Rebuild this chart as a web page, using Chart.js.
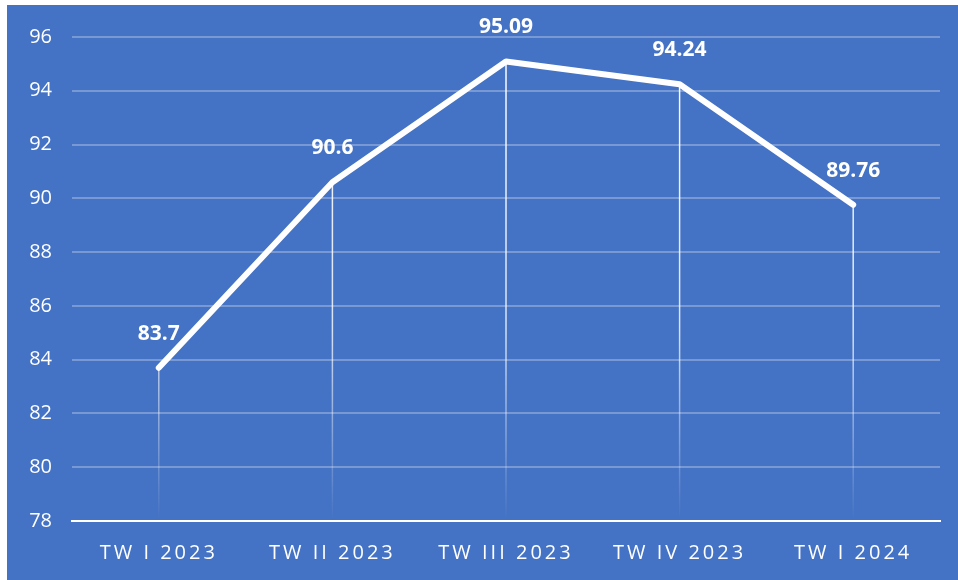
<!DOCTYPE html>
<html>
<head>
<meta charset="utf-8">
<script src="https://cdn.jsdelivr.net/npm/chart.js@4.4.1/dist/chart.umd.min.js"></script>
<style>
  html, body { margin: 0; padding: 0; background: #ffffff; }
  #wrap { position: absolute; left: 7px; top: 5px; width: 951px; height: 575px; background: #4472c4; }
</style>
</head>
<body>
<div id="wrap"><canvas id="chart1" width="951" height="575"></canvas></div>
<script>
const quarters = ['TW I 2023', 'TW II 2023', 'TW III 2023', 'TW IV 2023', 'TW I 2024'];
const scores = [83.7, 90.6, 95.09, 94.24, 89.76];
const yMin = 78;
const yMax = 96;
const yStep = 2;

// category axis with letter-spaced labels
class SpacedCategory extends Chart.CategoryScale {
  drawLabels(area) {
    const ctx = this.ctx;
    ctx.save();
    ctx.letterSpacing = '3px';
    super.drawLabels(area);
    ctx.restore();
  }
}
SpacedCategory.id = 'spacedCategory';
SpacedCategory.defaults = Chart.CategoryScale.defaults;
Chart.register(SpacedCategory);

// vertical drop lines from each point to the axis
const dropLines = {
  id: 'dropLines',
  beforeDatasetsDraw(chart) {
    const ctx = chart.ctx;
    const area = chart.chartArea;
    const pts = chart.getDatasetMeta(0).data;
    const grad = ctx.createLinearGradient(0, area.top, 0, area.bottom);
    grad.addColorStop(0, 'rgba(255,255,255,1)');
    grad.addColorStop(0.6, 'rgba(255,255,255,0.8)');
    grad.addColorStop(1, 'rgba(255,255,255,0)');
    ctx.save();
    ctx.strokeStyle = grad;
    ctx.lineWidth = 1.5;
    pts.forEach(p => {
      ctx.beginPath();
      ctx.moveTo(p.x, p.y);
      ctx.lineTo(p.x, area.bottom);
      ctx.stroke();
    });
    ctx.restore();
  }
};

// value labels above the points
const valueLabels = {
  id: 'valueLabels',
  afterDatasetsDraw(chart) {
    const ctx = chart.ctx;
    const pts = chart.getDatasetMeta(0).data;
    ctx.save();
    ctx.fillStyle = '#ffffff';
    ctx.font = 'bold 21px "Open Sans"';
    ctx.textAlign = 'center';
    ctx.textBaseline = 'middle';
    pts.forEach((p, i) => {
      ctx.fillText(String(scores[i]), p.x, p.y - 34);
    });
    ctx.restore();
  }
};

new Chart(document.getElementById('chart1').getContext('2d'), {
  type: 'line',
  data: {
    labels: quarters,
    datasets: [{
      data: scores,
      borderColor: '#ffffff',
      borderWidth: 6,
      borderJoinStyle: 'round',
      borderCapStyle: 'round',
      pointRadius: 0,
      tension: 0,
      fill: false
    }]
  },
  options: {
    responsive: false,
    animation: false,
    layout: { padding: { top: 30, right: 18, bottom: 0, left: 0 } },
    plugins: {
      legend: { display: false },
      tooltip: { enabled: false }
    },
    scales: {
      x: {
        type: 'spacedCategory',
        offset: true,
        afterFit(scale) { scale.height = 59; },
        grid: { display: false, drawTicks: false, offset: true },
        border: { display: true, color: '#ffffff', width: 2 },
        ticks: { color: '#ffffff', font: { family: 'Open Sans', size: 20 }, padding: 20, maxRotation: 0 }
      },
      y: {
        min: yMin,
        max: yMax,
        afterFit(scale) { scale.width = 65; },
        grid: { color: 'rgba(255,255,255,0.28)', lineWidth: 2, drawTicks: false },
        border: { display: false },
        ticks: { stepSize: yStep, color: '#ffffff', font: { family: 'Open Sans', size: 20 }, padding: 20 }
      }
    }
  },
  plugins: [dropLines, valueLabels]
});
</script>
</body>
</html>
